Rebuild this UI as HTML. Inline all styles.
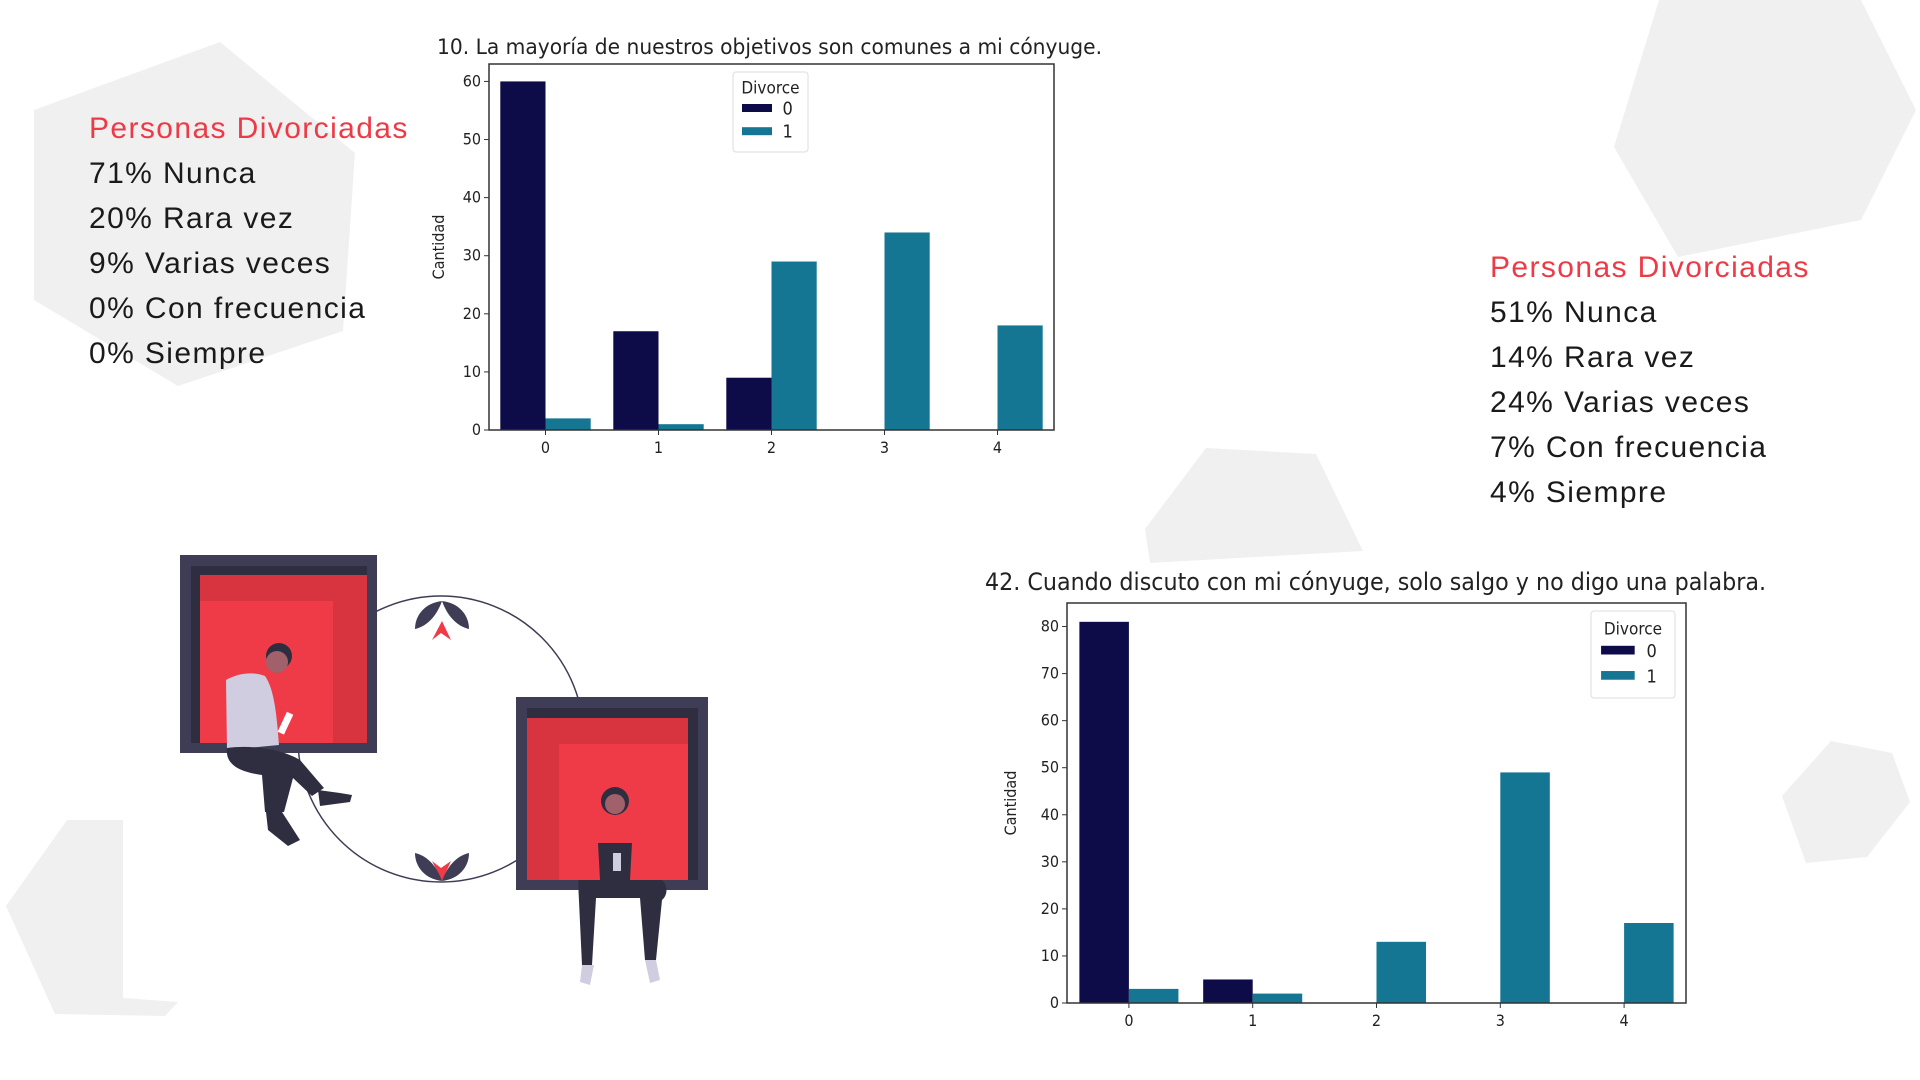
<!DOCTYPE html>
<html><head><meta charset="utf-8"><style>
html,body{margin:0;padding:0;background:#fff;}
svg{display:block;}
.tk{font-family:"DejaVu Sans Condensed","DejaVu Sans",sans-serif;font-size:15px;fill:#222;}
.big{font-family:"Liberation Sans",sans-serif;font-size:30px;fill:#1a1a1a;letter-spacing:1.4px;}
</style></head><body>
<svg id="s" width="1920" height="1080" viewBox="0 0 1920 1080" xmlns="http://www.w3.org/2000/svg">
<g fill="#f0f0f0">
<polygon points="34,110 220,42 355,153 343,331 178,386 34,300"/>
<polygon points="1659,0 1861,0 1916,110 1861,220 1678,257 1614,147"/>
<polygon points="1145,529 1206,448 1316,454 1363,551 1150,563"/>
<polygon points="6,906 67,820 123,820 123,998 178,1002 165,1016 55,1014"/>
<polygon points="1782,796 1831,741 1892,753 1910,802 1867,857 1806,863"/>
</g>
<g>
<text x="89" y="138" class="big" style="fill:#ee3a47">Personas Divorciadas</text>
<text x="89" y="183" class="big">71% Nunca</text>
<text x="89" y="228" class="big">20% Rara vez</text>
<text x="89" y="273" class="big">9% Varias veces</text>
<text x="89" y="318" class="big">0% Con frecuencia</text>
<text x="89" y="363" class="big">0% Siempre</text>
</g>
<g>
<text x="1490" y="277" class="big" style="fill:#ee3a47">Personas Divorciadas</text>
<text x="1490" y="322" class="big">51% Nunca</text>
<text x="1490" y="367" class="big">14% Rara vez</text>
<text x="1490" y="412" class="big">24% Varias veces</text>
<text x="1490" y="457" class="big">7% Con frecuencia</text>
<text x="1490" y="502" class="big">4% Siempre</text>
</g>
<g>
<circle cx="441" cy="739" r="143" fill="none" stroke="#3f3d56" stroke-width="1.5"/>
<g>
<rect x="180" y="555" width="197" height="198" fill="#3f3d56"/>
<rect x="191" y="566" width="176" height="177" fill="#2f2e41"/>
<rect x="200" y="575" width="167" height="168" fill="#d8343f"/>
<rect x="200" y="601" width="133" height="142" fill="#ef3a47"/>
</g>
<g>
<rect x="516" y="697" width="192" height="193" fill="#3f3d56"/>
<rect x="527" y="708" width="171" height="172" fill="#2f2e41"/>
<rect x="527" y="718" width="161" height="162" fill="#d8343f"/>
<rect x="559" y="744" width="129" height="136" fill="#ef3a47"/>
</g>
<g>
<path d="M442,621 L432,640 L441,633 L451,640 Z" fill="#ef3a47"/>
<path d="M442,601 C425,603 415,615 415,629 C428,626 437,615 442,601 Z" fill="#3f3d56"/>
<path d="M442,601 C459,603 469,615 469,629 C456,626 447,615 442,601 Z" fill="#3f3d56"/>
</g>
<g>
<path d="M442,881 L432,861 L441,868 L451,861 Z" fill="#ef3a47"/>
<path d="M442,881 C425,879 415,867 415,853 C428,856 437,867 442,881 Z" fill="#3f3d56"/>
<path d="M442,881 C459,879 469,867 469,853 C456,856 447,867 442,881 Z" fill="#3f3d56"/>
</g>
<g>
<circle cx="279" cy="656" r="13" fill="#2f2e41"/>
<circle cx="277" cy="662" r="11" fill="#a0616a"/>
<path d="M226,680 C240,672 255,672 265,676 C275,690 277,720 279,745 L227,750 Z" fill="#d0cde1"/>
<path d="M227,748 C250,745 280,748 300,760 L324,788 L312,796 L293,778 L284,812 L265,812 L262,775 C240,772 225,765 227,748 Z" fill="#2f2e41"/>
<path d="M266,812 L282,812 L300,840 L288,846 L268,830 Z" fill="#2f2e41"/>
<path d="M318,790 L340,793 L352,795 L350,802 L320,806 Z" fill="#2f2e41"/>
<rect x="282" y="712" width="7" height="22" fill="#fff" transform="rotate(25 285 723)"/>
</g>
<g>
<circle cx="615" cy="801" r="14" fill="#2f2e41"/>
<circle cx="615" cy="804" r="10" fill="#a0616a"/>
<path d="M598,843 L632,843 L630,880 L600,880 Z" fill="#2f2e41"/>
<path d="M578,880 L662,880 C668,885 668,895 662,900 L656,960 L645,960 L640,898 L596,898 L592,965 L582,965 Z" fill="#2f2e41"/>
<rect x="613" y="853" width="8" height="18" fill="#d0cde1"/>
<path d="M582,965 L594,965 L590,985 L580,982 Z" fill="#d0cde1"/>
<path d="M645,960 L656,960 L660,980 L650,983 Z" fill="#d0cde1"/>
</g>
</g>
<g id="chart1"></g>
<g id="chart2"></g>
</svg>
<script>
const categories = ["0","1","2","3","4"];
const c1Series0 = [60,17,9,0,0];
const c1Series1 = [2,1,29,34,18];
const c1Ticks = [0,10,20,30,40,50,60];
const c2Series0 = [81,5,0,0,0];
const c2Series1 = [3,2,13,49,17];
const c2Ticks = [0,10,20,30,40,50,60,70,80];
const NS="http://www.w3.org/2000/svg";
function mk(p,tag,at){const e=document.createElementNS(NS,tag);for(const k in at)e.setAttribute(k,at[k]);p.appendChild(e);return e;}
function draw(gid,cfg,s0,s1,ticks,title){
  const g=document.getElementById(gid);
  const L=cfg.l,R=cfg.r,T=cfg.t,B=cfg.b;
  const y=v=>B-(v/cfg.ymax)*(B-T);
  const band=(R-L)/categories.length;
  const x=i=>L+band*(i+0.5);
  const bw=band*0.4;
  const t=mk(g,'text',{x:cfg.tx,y:cfg.ty,class:'tk',style:'font-size:'+cfg.tfs+'px',textLength:cfg.tw,lengthAdjust:'spacingAndGlyphs'});
  t.textContent=title;
  
  
  categories.forEach((c,i)=>{
    const b0=mk(g,'rect',{x:x(i)-bw,y:y(s0[i]),width:bw,height:B-y(s0[i]),fill:'#0d0b48'});
    
    
    const b1=mk(g,'rect',{x:x(i),y:y(s1[i]),width:bw,height:B-y(s1[i]),fill:'#147693'});
    
    
    mk(g,'line',{x1:x(i),x2:x(i),y1:B,y2:B+5,stroke:'#333'});
    const tl=mk(g,'text',{x:x(i),y:B+23,class:'tk','text-anchor':'middle',style:'font-size:16px'});
    tl.textContent=c;
    
    
  });
  ticks.forEach(v=>{
    mk(g,'line',{x1:L-5,x2:L,y1:y(v),y2:y(v),stroke:'#333'});
    const tl=mk(g,'text',{x:L-8,y:y(v)+5,class:'tk','text-anchor':'end',style:'font-size:16px'});
    tl.textContent=v;
    
    
  });
  const fr=mk(g,'rect',{x:L,y:T,width:R-L,height:B-T,fill:'none',stroke:'#333','stroke-width':1.5});
  
  
  const yl=mk(g,'text',{x:0,y:0,class:'tk','text-anchor':'middle',transform:`translate(${cfg.ylx},${(T+B)/2+cfg.yloff}) rotate(-90)`,style:'font-size:16px'});
  yl.textContent='Cantidad';
  
  
  const lg=mk(g,'g',{});
  
  
  const [lx,ly,lw,lh]=cfg.leg;
  mk(lg,'rect',{x:lx,y:ly,width:lw,height:lh,fill:'#fff',stroke:'#ddd',rx:3});
  const lt=mk(lg,'text',{x:lx+lw/2,y:ly+lh*0.27,class:'tk','text-anchor':'middle',style:'font-size:17px'});lt.textContent='Divorce';
  const sw=lw*0.4,sx=lx+lw*0.12;
  mk(lg,'rect',{x:sx,y:ly+lh*0.40,width:sw,height:lh*0.1,fill:'#0d0b48'});
  mk(lg,'rect',{x:sx,y:ly+lh*0.69,width:sw,height:lh*0.1,fill:'#147693'});
  const l0=mk(lg,'text',{x:sx+sw+lw*0.14,y:ly+lh*0.53,class:'tk',style:'font-size:18px'});l0.textContent='0';
  const l1=mk(lg,'text',{x:sx+sw+lw*0.14,y:ly+lh*0.82,class:'tk',style:'font-size:18px'});l1.textContent='1';
}
draw('chart1',{l:489,r:1054,t:64,b:430,ymax:63,tx:437,ty:54,tfs:21,tw:665,ylx:444,yloff:0,leg:[733,72,75,80]},
  c1Series0,c1Series1,c1Ticks,'10. La mayoría de nuestros objetivos son comunes a mi cónyuge.');
draw('chart2',{l:1067,r:1686,t:603,b:1003,ymax:85,tx:985,ty:590,tfs:24,tw:781,ylx:1016,yloff:0,leg:[1591,611,84,87]},
  c2Series0,c2Series1,c2Ticks,'42. Cuando discuto con mi cónyuge, solo salgo y no digo una palabra.');
</script>
</body></html>
